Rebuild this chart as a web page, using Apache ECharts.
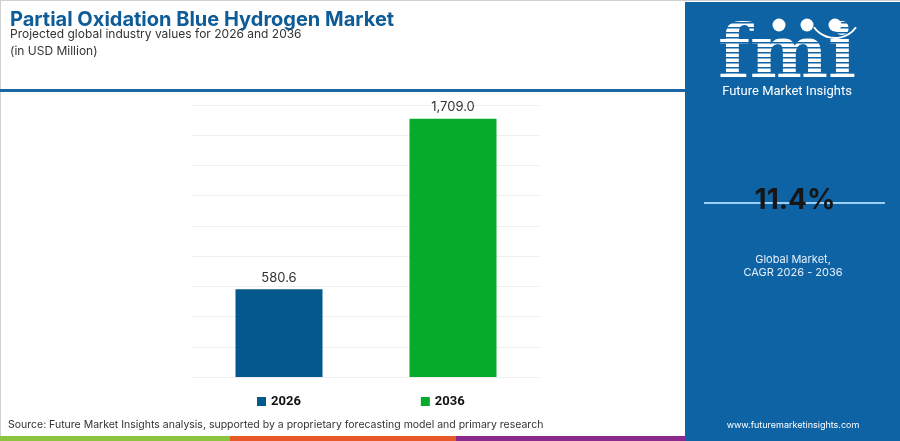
<!DOCTYPE html>
<html>
<head>
<meta charset="utf-8">
<script src="https://cdn.jsdelivr.net/npm/echarts@6/dist/echarts.min.js"></script>
<style>
html,body{margin:0;padding:0;background:#fff;}
#chart{width:900px;height:441px;}
</style>
</head>
<body>
<div id="chart"></div>
<script>
const categories = ['2026', '2036'];
const values2026 = [580.6, '-'];
const values2036 = ['-', 1709.0];
const seriesNames = ['2026', '2036'];
const yTicks = [0, 200, 400, 600, 800, 1000, 1200, 1400, 1600, 1800];
const cagrText = '11.4%';

const chart = echarts.init(document.getElementById('chart'), null, {renderer: 'canvas'});
const FONT = 'Inter, "Open Sans", sans-serif';
const PANEL = '#0e63a5';

const labelStyle = {show: true, position: 'top', distance: 5, color: '#333', fontSize: 13, fontFamily: FONT,
  formatter: p => Number(p.value).toLocaleString('en-US', {minimumFractionDigits: 1, maximumFractionDigits: 1})};

const graphics = [
  {type: 'rect', shape: {x: 0, y: 0, width: 900, height: 1}, style: {fill: '#d0d0d0'}, silent: true},
  {type: 'rect', shape: {x: 0, y: 0, width: 1, height: 441}, style: {fill: '#d0d0d0'}, silent: true},
  {type: 'text', left: 10, top: 10, style: {text: 'Partial Oxidation Blue Hydrogen Market', fill: '#0d5b97',
    font: 'bold 20px ' + FONT}},
  {type: 'text', left: 10, top: 28, style: {text: 'Projected global industry values for 2026 and 2036', fill: '#333',
    font: '12px ' + FONT}},
  {type: 'text', left: 10, top: 45, style: {text: '(in USD Million)', fill: '#333', font: '12px ' + FONT}},
  {type: 'rect', shape: {x: 0, y: 89, width: 686, height: 3}, style: {fill: '#1a65a5'}, silent: true},
  {type: 'text', left: 8, top: 419, style: {text: 'Source: Future Market Insights analysis, supported by a proprietary forecasting model and primary research',
    fill: '#333', font: '10.5px ' + FONT}},
  {type: 'rect', shape: {x: 0, y: 436, width: 230, height: 5}, style: {fill: '#8cc43f'}, silent: true},
  {type: 'rect', shape: {x: 230, y: 436, width: 226, height: 5}, style: {fill: '#e8592a'}, silent: true},
  {type: 'rect', shape: {x: 456, y: 436, width: 230, height: 5}, style: {fill: '#8a2a8c'}, silent: true},
  // right panel
  {type: 'rect', shape: {x: 685, y: 2, width: 215, height: 439}, style: {fill: PANEL}, silent: true},
  {type: 'text', x: 787, y: 59, style: {text: 'fmi', font: 'bold 74px "DejaVu Serif", serif', fill: '#ffffff',
    align: 'center', verticalAlign: 'middle'}}
];
for (let y = 22; y < 80; y += 5) {
  graphics.push({type: 'rect', shape: {x: 715, y: y, width: 150, height: 1.6}, style: {fill: PANEL}, silent: true});
}
graphics.push(
  {type: 'circle', shape: {cx: 779, cy: 25, r: 6.5}, style: {fill: '#fff'}},
  {type: 'circle', shape: {cx: 807, cy: 25, r: 6.5}, style: {fill: '#fff'}},
  {type: 'circle', shape: {cx: 835, cy: 25, r: 6.5}, style: {fill: '#fff'}},
  {type: 'arc', shape: {cx: 835, cy: 12, r: 26, startAngle: Math.PI * 0.2, endAngle: Math.PI * 0.8}, style: {stroke: '#fff', lineWidth: 2, fill: null}},
  {type: 'text', x: 787, y: 92, style: {text: 'Future Market Insights', fill: '#fff', font: '13px Roboto, sans-serif', align: 'center', verticalAlign: 'middle'}},
  {type: 'rect', shape: {x: 704, y: 202, width: 181, height: 2}, style: {fill: '#9ccdf2'}, silent: true},
  {type: 'text', x: 795, y: 201, style: {text: cagrText, fill: '#161616', font: 'bold 28px ' + FONT, align: 'center', verticalAlign: 'middle'}},
  {type: 'text', x: 793, y: 260, style: {text: 'Global Market,', fill: '#e6f0fa', font: '11px ' + FONT, align: 'center', verticalAlign: 'middle'}},
  {type: 'text', x: 793, y: 273, style: {text: 'CAGR 2026 - 2036', fill: '#e6f0fa', font: '11px ' + FONT, align: 'center', verticalAlign: 'middle'}},
  {type: 'text', x: 793, y: 425, style: {text: 'www.futuremarketinsights.com', fill: '#fff', font: '9px ' + FONT, align: 'center', verticalAlign: 'middle'}}
);

chart.setOption({
  animation: false,
  backgroundColor: '#ffffff',
  grid: {left: 192, right: 360, top: 105, bottom: 64},
  legend: {
    data: seriesNames, left: 252, top: 390, icon: 'rect', itemWidth: 9, itemHeight: 9, itemGap: 120,
    textStyle: {fontSize: 13, fontWeight: 'bold', color: '#111', fontFamily: 'Roboto, sans-serif'}
  },
  xAxis: {type: 'category', data: categories, axisLine: {show: false}, axisTick: {show: false}, axisLabel: {show: false}},
  yAxis: {type: 'value', min: yTicks[0], max: yTicks[yTicks.length - 1], interval: yTicks[1] - yTicks[0],
    axisLabel: {show: false}, axisLine: {show: false}, axisTick: {show: false},
    splitLine: {lineStyle: {color: '#efefef', width: 1}}},
  series: [
    {name: seriesNames[0], type: 'bar', data: values2026, barWidth: '50%', barGap: '-100%',
      itemStyle: {color: '#03588c'}, label: labelStyle},
    {name: seriesNames[1], type: 'bar', data: values2036, barWidth: '50%', barGap: '-100%',
      itemStyle: {color: '#07ab2b'}, label: labelStyle}
  ],
  graphic: graphics
});
</script>
</body>
</html>
